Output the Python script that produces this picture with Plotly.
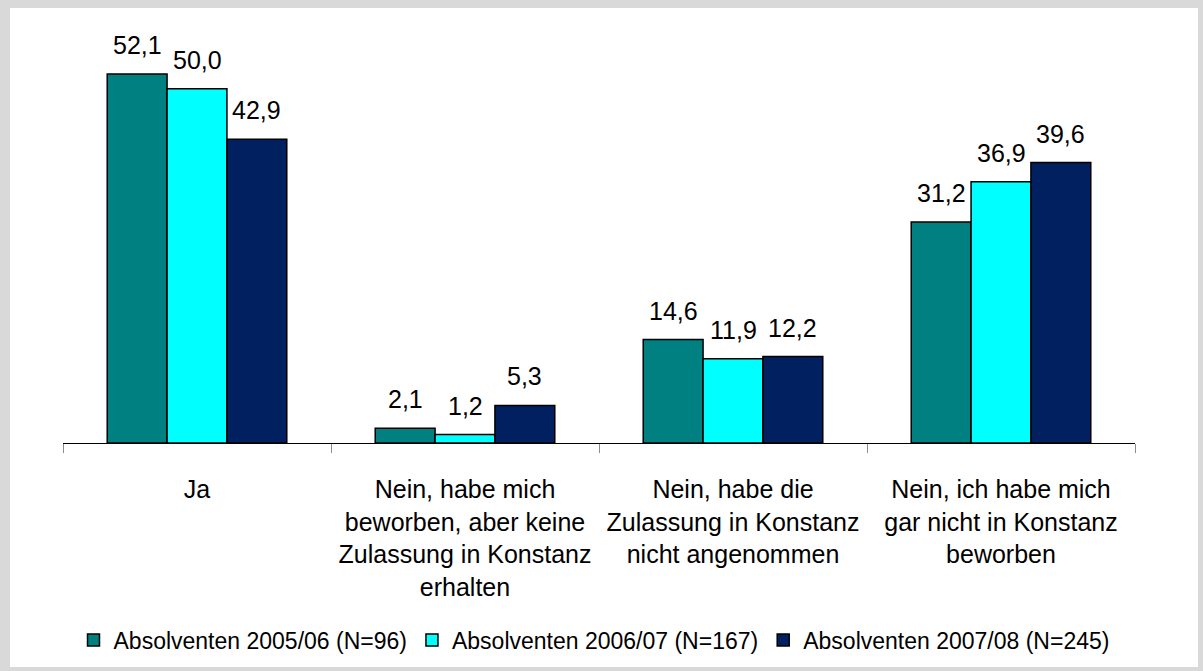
import plotly.graph_objects as go

categories = ["Ja",
              "Nein, habe mich<br>beworben, aber keine<br>Zulassung in Konstanz<br>erhalten",
              "Nein, habe die<br>Zulassung in Konstanz<br>nicht angenommen",
              "Nein, ich habe mich<br>gar nicht in Konstanz<br>beworben"]
series_names = ["Absolventen 2005/06 (N=96)", "Absolventen 2006/07 (N=167)", "Absolventen 2007/08 (N=245)"]
v2005 = [52.1, 2.1, 14.6, 31.2]
v2006 = [50.0, 1.2, 11.9, 36.9]
v2007 = [42.9, 5.3, 12.2, 39.6]
colors = ["#008080", "#00FFFF", "#002060"]

FONT = "Liberation Sans, Arial, sans-serif"
W, H = 1203, 671
l, r, t, b = 63, 68, 18, 228
pw, ph = W - l - r, H - t - b
bargap = 0.33
nser = 3
bar_px = pw / len(categories) * (1 - bargap) / nser

def px2x(p):
    return (p - l) / pw

def py2y(p):
    return (H - b - p) / ph

fig = go.Figure()
all_vals = [v2005, v2006, v2007]
for i, (name, vals, c) in enumerate(zip(series_names, all_vals, colors)):
    fig.add_trace(go.Bar(
        x=categories, y=vals, name=name,
        marker=dict(color=c, line=dict(color="black", width=1.5)),
    ))
    for cat, v in zip(categories, vals):
        fig.add_annotation(
            x=cat, y=v, xref="x", yref="y",
            text=f"{v:.1f}".replace(".", ","),
            showarrow=False, yanchor="bottom",
            xshift=(i - (nser - 1) / 2) * bar_px, yshift=13,
            font=dict(family=FONT, size=25, color="black"),
        )

fig.add_shape(type="rect", xref="paper", yref="paper",
              x0=px2x(10), x1=px2x(1198), y0=py2y(667), y1=py2y(8),
              fillcolor="white", line=dict(width=0), layer="below")

fig.update_layout(
    width=W, height=H,
    margin=dict(l=l, r=r, t=t, b=b, autoexpand=False),
    paper_bgcolor="#d9d9d9", plot_bgcolor="white",
    barmode="group", bargap=bargap, bargroupgap=0,
    font=dict(family=FONT, size=25, color="black"),
    xaxis=dict(showline=True, linecolor="black", linewidth=1,
               ticks="outside", tickson="boundaries", ticklen=9, tickcolor="#8c8c8c",
               tickfont=dict(size=25), ticklabelstandoff=24, showgrid=False),
    yaxis=dict(range=[0, 60], visible=False, showgrid=False),
    legend=dict(orientation="h", x=px2x(594), xanchor="center", y=py2y(640), yanchor="middle",
                font=dict(size=23), itemwidth=30, bgcolor="rgba(0,0,0,0)"),
)

fig.write_html("out.html", config={"displayModeBar": False},
               post_script="document.body.style.margin='0px';document.body.style.background='#d9d9d9';")
